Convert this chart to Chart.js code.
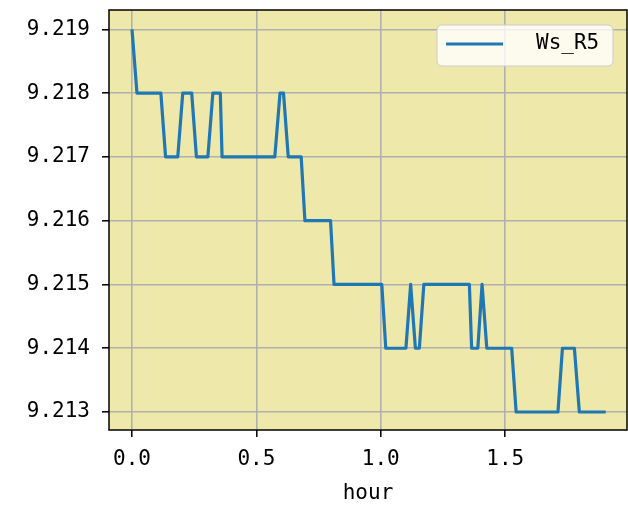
<!DOCTYPE html>
<html>
<head>
<meta charset="utf-8">
<script src="https://cdn.jsdelivr.net/npm/chart.js@4.4.0/dist/chart.umd.min.js"></script>
<style>
  body { margin: 0; background: #fff; }
  #wrap { width: 628px; height: 517px; }
</style>
</head>
<body>
<div id="wrap"><canvas id="myChart" width="628" height="517"></canvas></div>
<script>
// time (hour) and value at each corner of the trace
const hours = [0, 0.020, 0.116, 0.135, 0.184, 0.204, 0.240, 0.259, 0.305, 0.325, 0.355, 0.362,
  0.574, 0.595, 0.609, 0.628, 0.680, 0.695, 0.798, 0.812, 1.004, 1.020, 1.101, 1.120, 1.139,
  1.155, 1.173, 1.356, 1.365, 1.390, 1.407, 1.426, 1.526, 1.544, 1.712, 1.730, 1.778, 1.798, 1.904];
const wsR5 = [9.219, 9.218, 9.218, 9.217, 9.217, 9.218, 9.218, 9.217, 9.217, 9.218, 9.218, 9.217,
  9.217, 9.218, 9.218, 9.217, 9.217, 9.216, 9.216, 9.215, 9.215, 9.214, 9.214, 9.215, 9.214,
  9.214, 9.215, 9.215, 9.214, 9.214, 9.215, 9.214, 9.214, 9.213, 9.213, 9.214, 9.214, 9.213, 9.213];
const xTicks = [0, 0.5, 1.0, 1.5];
const yTicks = [9.213, 9.214, 9.215, 9.216, 9.217, 9.218, 9.219];
const seriesLabel = 'Ws_R5';

const FONT = '"DejaVu Sans Mono", monospace';

const points = hours.map((h, i) => ({ x: h, y: wsR5[i] }));

// axes background + frame + legend box, like matplotlib
const frame = {
  id: 'frame',
  beforeDraw(chart) {
    const a = chart.chartArea, c = chart.ctx;
    c.save();
    c.fillStyle = '#eee8aa';
    c.fillRect(a.left, a.top, a.right - a.left, a.bottom - a.top);
    c.restore();
  },
  afterDatasetsDraw(chart) {
    const a = chart.chartArea, c = chart.ctx;
    c.save();
    c.strokeStyle = '#000';
    c.lineWidth = 1.5;
    c.strokeRect(a.left, a.top, a.right - a.left, a.bottom - a.top);

    // legend
    const lx = 437, ly = 25, lw = 176, lh = 41;
    c.beginPath();
    c.roundRect(lx, ly, lw, lh, 5);
    c.fillStyle = 'rgba(255,255,255,0.8)';
    c.fill();
    c.strokeStyle = '#cccccc';
    c.lineWidth = 1;
    c.stroke();
    const ds = chart.data.datasets[0];
    c.beginPath();
    c.moveTo(lx + 9, ly + 19);
    c.lineTo(lx + 66, ly + 19);
    c.strokeStyle = ds.borderColor;
    c.lineWidth = ds.borderWidth;
    c.stroke();
    c.fillStyle = '#000';
    c.font = '21px ' + FONT;
    c.textBaseline = 'middle';
    c.textAlign = 'left';
    c.fillText(ds.label, lx + 99, ly + 19);
    c.restore();
  }
};

new Chart(document.getElementById('myChart'), {
  type: 'line',
  data: {
    datasets: [{
      label: seriesLabel,
      data: points,
      borderColor: '#1f77b4',
      borderWidth: 3.2,
      borderJoinStyle: 'round',
      pointRadius: 0,
      tension: 0,
      fill: false
    }]
  },
  options: {
    responsive: false,
    animation: false,
    devicePixelRatio: 1,
    layout: { padding: { left: 0, right: 1, top: 10, bottom: 0 } },
    plugins: { legend: { display: false }, tooltip: { enabled: false } },
    scales: {
      x: {
        type: 'linear',
        min: -0.0924,
        max: 1.9895,
        afterFit: s => { s.height = 87; s.paddingLeft = 0; s.paddingRight = 0; },
        afterBuildTicks: s => { s.ticks = xTicks.map(v => ({ value: v })); },
        ticks: {
          callback: v => v.toFixed(1),
          color: '#000',
          font: { family: FONT, size: 21 },
          padding: 10,
          maxRotation: 0,
          autoSkip: false
        },
        grid: { color: '#b0b0b0', lineWidth: 1.6, tickLength: 7, tickColor: '#000', tickWidth: 1.5 },
        border: { display: false },
        title: {
          display: true,
          text: 'hour',
          color: '#000',
          font: { family: FONT, size: 21 },
          padding: { top: 0, bottom: 11 }
        }
      },
      y: {
        type: 'linear',
        min: 9.212718,
        max: 9.219303,
        afterFit: s => { s.width = 109; s.paddingTop = 0; s.paddingBottom = 0; },
        afterBuildTicks: s => { s.ticks = yTicks.map(v => ({ value: v })); },
        ticks: {
          callback: v => v.toFixed(3),
          color: '#000',
          font: { family: FONT, size: 21 },
          padding: 12,
          autoSkip: false
        },
        grid: { color: '#b0b0b0', lineWidth: 1.6, tickLength: 7, tickColor: '#000', tickWidth: 1.5 },
        border: { display: false }
      }
    }
  },
  plugins: [frame]
});
</script>
</body>
</html>
